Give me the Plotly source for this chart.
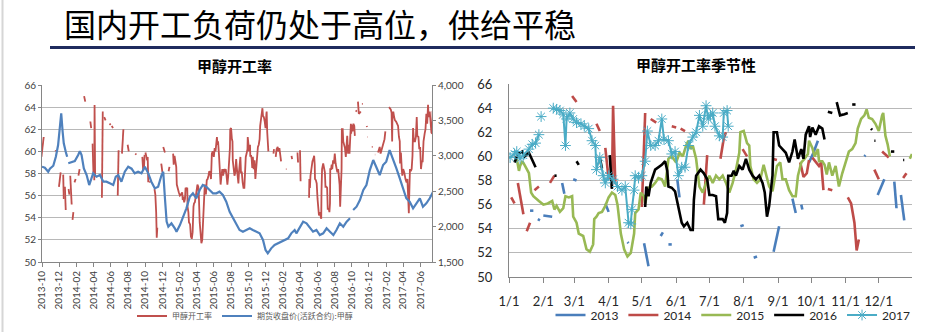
import pandas as pd
import plotly.graph_objects as go

# ---------------------------------------------------------------------------
# 甲醇开工率 (%) by year. Day offsets are counted from 1 January of each year;
# None marks a break in the series.
# ---------------------------------------------------------------------------
YEARS = [2013, 2014, 2015, 2016, 2017]

day_2013 = [19, 22, None, 26, 28, None, 31, 39, None, 48, 50, None, 58, 61, None,
            87, 90, None, 107, 108, None, 122, 126, None, 137, 139, None, 144, 147, None,
            152, 154, None, 209, 212, None, 221, 224, None, 239, 244, None, 256, 259, None,
            264, 265, None, 271, 275, 279, None, 321, 322, None, 333, 339, None,
            348, 350, None, 354, 357]
rate_2013 = [55.5, 55.5, None, 54.8, 54.7, None, 55.1, 55.0, None, 57.8, 56.9, None, 58.1, 58.0, None,
             56.1, 55.4, None, 52.9, 52.8, None, 52.8, 50.9, None, 53.4, 53.7, None, 52.7, 52.7, None,
             58.1, 56.6, None, 54.2, 54.3, None, 51.6, 51.7, None, 52.1, 54.2, None, 56.5, 55.3, None,
             56.0, 55.6, None, 59.5, 60.3, 61.3, None, 60.0, 60.1, None, 56.8, 58.1, None,
             57.9, 55.7, None, 56.8, 54.7]

day_2014 = [2, 5, None, 8, 13, None, 16, 19, None, 23, 27, None, 37, 41, None, 57, 61, None,
            79, 82, None, 87, 90, None, 93, 94, 96, None, 120, 123, None, 128, 133, None,
            147, 151, None, 155, 159, None, 176, 179, None, 191, 194, 196, None, 211, 215, None,
            238, 242, None, 263, 266, 269, 271, None, 274, 280, 282, 284, None, 288, 292, None,
            306, 309, 312, 314, 316, None, 330, 334, None, 337, 343, None, 356, 359]
rate_2014 = [56.6, 56.1, None, 57.8, 55.2, None, 53.8, 54.5, None, 57.2, 57.5, None, 57.8, 58.4, None, 65.0, 64.5, None,
             62.7, 62.1, None, 60.7, 58.1, None, 57.4, 64.2, 57.7, None, 55.8, 63.6, None, 63.1, 62.8, None,
             62.5, 62.4, None, 62.3, 62.1, None, 56.0, 60.1, None, 59.8, 61.5, 62.0, None, 60.6, 60.0, None,
             59.8, 59.7, None, 59.5, 58.3, 58.6, 59.7, None, 59.9, 59.2, 59.5, 57.2, None, 57.3, 57.2, None,
             56.6, 56.1, 54.5, 52.2, 53.1, None, 58.9, 58.1, None, 60.4, 59.9, None, 58.2, 58.6]

day_2015 = [7, 9, 10, 12, 14, 18, 20, 22, 27, 31,
            35, 39, 41, 43, 46, 49, 51, 54, 57, 58,
            61, 63, 67, 70, 73, 76, 77, 79, 81, 84,
            87, 90, 93, 96, 98, 101, 104, 107, 110, 113,
            114, 117, 119, 122, 123, 126, 129, 132, 135, 138,
            141, 144, 147, 151, 154, 157, 160, 162, 164, 166,
            169, 172, 175, 178, 181, 184, 187, 190, 193, 196,
            199, 202, 205, 208, 209, 212, 215, 217, 218, 221,
            224, 227, 230, 232, 235, 238, 240, 242, 245, 247,
            250, 253, 256, 259, 261, 264, 267, 270, 271, 274,
            276, 279, 280, 283, 285, 287, 289, 292, 295, 298,
            301, 304, 307, 310, 313, 315, 318, 321, 323, 325,
            328, 331, 334, 337, 338, 340, 342, 344, None, 362, 364]
rate_2015 = [59.8, 58.8, 59.2, 59.6, 59.3, 58.6, 57.0, 56.7, 56.3, 56.0,
             56.1, 56.3, 55.6, 55.9, 55.4, 55.7, 56.7, 56.6, 56.7, 55.0,
             54.5, 53.6, 53.4, 52.3, 52.1, 52.7, 54.8, 55.0, 55.3, 55.4,
             55.9, 56.6, 57.0, 56.8, 56.0, 53.6, 52.3, 51.7, 52.0, 53.6,
             55.3, 55.6, 57.0, 56.7, 56.1, 57.4, 57.5, 57.8, 58.2, 58.1,
             57.5, 59.8, 60.0, 59.5, 60.3, 60.0, 60.9, 61.3, 60.6, 60.9,
             59.8, 57.5, 57.0, 57.8, 58.4, 57.8, 58.4, 58.1, 58.4, 57.8,
             57.0, 57.8, 58.9, 60.3, 62.0, 62.1, 61.1, 60.9, 59.2, 58.1,
             57.8, 58.1, 59.3, 58.6, 57.5, 57.1, 58.1, 59.2, 59.5, 58.1,
             58.1, 57.2, 56.7, 56.7, 58.4, 59.5, 59.8, 60.2, 61.3, 60.7,
             60.0, 60.6, 59.6, 59.6, 59.3, 58.5, 59.5, 58.4, 59.2, 57.5,
             58.6, 59.5, 60.4, 60.6, 61.1, 62.3, 63.1, 63.4, 63.9, 63.2,
             63.1, 62.7, 62.1, 63.4, 63.6, 61.7, 61.0, 60.0, None, 59.8, 60.2]

day_2016 = [5, 8, 12, 14, 18, 20, 24, None, 41, 43, None, 61, 63, None, 82, 84, None, 91, 93, None,
            123, 124, 126, 128, 132, 135, 138, 141, 143, 144,
            147, 150, 153, 156, 158, 161, 164, 166, 167, 169,
            173, 176, 179, 181, 184, 187, 189, 193, 195, 197,
            198, 201, 203, 205, 208, 211, 214, 217, 220, 223,
            226, 229, 231, 233, 235, 238, 239, 242, 244, 247,
            250, 253, 256, 258, 261, 264, 266, 268, 269, 271,
            272, 274, 277, 280, 283, 285, None, 288, 292, None,
            296, 299, 303, 306, None, 310, 313, None, 327, 328, None,
            330, 331, None, 345, 348, None, 356, 357]
rate_2016 = [59.5, 60.2, 60.4, 60.0, 60.3, 59.9, 59.1, None, 58.4, 58.4, None, 59.6, 59.3, None, 59.9, 59.0, None, 60.1, 57.3, None,
             55.8, 57.5, 56.7, 57.8, 58.9, 59.1, 59.3, 59.6, 58.8, 57.5,
             57.4, 57.1, 55.7, 54.5, 54.2, 54.5, 53.9, 53.9, 56.4, 58.4,
             58.9, 58.6, 58.1, 56.8, 56.8, 56.7, 54.8, 54.8, 54.5, 55.3,
             58.4, 58.4, 58.8, 58.4, 59.2, 58.9, 59.8, 58.9, 58.4, 58.1,
             58.4, 57.8, 57.0, 55.0, 55.9, 58.4, 62.0, 62.0, 60.9, 60.6,
             60.3, 59.5, 60.4, 61.4, 59.8, 60.6, 59.8, 61.8, 62.0, 62.5,
             61.6, 62.4, 61.8, 62.5, 62.3, 61.4, None, 63.7, 63.6, None,
             64.5, 63.4, 63.5, 63.6, None, 64.3, 64.3, None, 62.3, 62.2, None,
             61.3, 61.3, None, 60.4, 60.4, None, 59.7, 59.7]

day_2017 = [1, 5, 7, 10, 13, 18, 21, 24, 27, None, 29, None,
            40, 43, 46, 49, 51, 52, 55, 58, 61, 65,
            68, 72, 75, 78, 79, 82, 85, 87, 90, 94,
            98, 102, 105, 108, 110, 111, 113, 114, 117, 120,
            123, 125, 128, 132, 135, 138, 140, 144, 147, 150,
            153, 156, 159, 162, 166, 169, 172, 175, 178, 180,
            182, 184, 186, 190, 193, 194, 197, 198]
rate_2017 = [59.9, 60.2, 60.4, 59.8, 60.1, 60.6, 61.0, 61.1, 61.8, None, 63.3, None,
             64.0, 63.9, 63.8, 63.5, 60.9, 63.1, 63.6, 63.1, 62.8, 62.7,
             62.5, 62.3, 61.3, 60.9, 58.9, 59.9, 58.4, 57.8, 58.4, 58.1,
             57.5, 57.2, 57.5, 54.5, 54.4, 55.6, 57.2, 58.4, 58.2, 58.4,
             59.6, 62.1, 60.9, 60.9, 61.3, 63.1, 61.4, 61.3, 60.2, 60.4,
             58.4, 59.1, 59.1, 60.9, 61.6, 62.0, 63.4, 62.5, 64.2, 63.1,
             63.4, 63.6, 62.5, 61.7, 61.6, 63.6, 63.8, 62.5]

# 期货收盘价(活跃合约):甲醇 (元/吨); None marks a break in the series
price_dates = [
    "2013-10-01", "2013-10-11", "2013-10-23", "2013-10-29", "2013-11-10", "2013-11-19",
    "2013-11-27", "2013-12-03", "2013-12-08", "2013-12-13", "2013-12-17", "2013-12-24",
    "2013-12-29", None, "2014-01-02", "2014-01-14", "2014-01-25", "2014-02-06", "2014-02-12",
    "2014-02-18", "2014-02-26", "2014-03-08", "2014-03-17", "2014-03-25", "2014-03-31",
    "2014-04-12", "2014-04-24", "2014-05-06", "2014-05-17", "2014-05-29", "2014-06-10",
    "2014-06-19", "2014-06-28", "2014-07-09", "2014-07-21", "2014-08-02", "2014-08-14",
    "2014-08-25", "2014-09-06", "2014-09-18", "2014-09-30", "2014-10-12", "2014-10-23",
    "2014-11-04", "2014-11-16", "2014-11-28", "2014-12-04", "2014-12-10", "2014-12-16",
    "2014-12-22", "2015-01-02", "2015-01-14", "2015-01-20", "2015-02-01", "2015-02-12",
    "2015-02-24", "2015-03-08", "2015-03-19", "2015-03-31", "2015-04-12", "2015-04-23",
    "2015-05-05", "2015-05-17", "2015-05-29", "2015-06-10", "2015-06-21", "2015-07-03",
    "2015-07-15", "2015-07-27", "2015-08-08", "2015-08-19", "2015-08-31", "2015-09-12",
    "2015-09-24", "2015-10-06", "2015-10-17", "2015-10-29", "2015-11-10", "2015-11-22",
    "2015-12-01", "2015-12-09", "2015-12-21", "2016-01-02", "2016-01-14", "2016-01-26",
    "2016-02-07", "2016-02-19", "2016-03-01", "2016-03-13", "2016-03-19", "2016-03-31",
    "2016-04-12", "2016-04-24", "2016-05-06", "2016-05-17", "2016-05-29", "2016-06-10",
    "2016-06-22", "2016-07-04", "2016-07-16", "2016-07-28", "2016-08-08", "2016-08-20",
    "2016-09-01", "2016-09-13", "2016-09-25", None, "2016-10-06", "2016-10-18", "2016-10-30",
    "2016-11-11", "2016-11-22", "2016-12-04", "2016-12-16", "2016-12-28", "2017-01-08",
    "2017-01-20", "2017-01-31", "2017-02-12", "2017-02-24", "2017-03-08", "2017-03-20",
    "2017-04-01", "2017-04-12", "2017-04-24", "2017-05-06", "2017-05-18", "2017-05-30",
    "2017-06-10", "2017-06-22", "2017-07-04", "2017-07-16",
]
price_values = [
    2846, 2832, 2775, 2818, 2860, 2987,
    3152, 3388, 3600, 3340, 3176, 3058,
    2987, None, 2894, 2908, 2926, 3011, 3067,
    3011, 2823, 2728, 2587, 2681, 2752,
    2704, 2728, 2634, 2634, 2611, 2587,
    2704, 2728, 2634, 2775, 2846, 2818,
    2752, 2775, 2752, 2846, 2752, 2634,
    2540, 2564, 2728, 2775, 2400, 2070,
    1999, 2046, 1976, 1928, 2022, 2140,
    2258, 2422, 2470, 2400, 2517, 2587,
    2564, 2517, 2470, 2470, 2493, 2446,
    2352, 2210, 2117, 2022, 1952, 1928,
    1952, 1976, 1952, 1928, 1905, 1811,
    1670, 1623, 1693, 1740, 1764, 1787,
    1811, 1834, 1905, 1952, 1905, 1999,
    2070, 2046, 1976, 1928, 1952, 1881,
    1905, 1976, 1928, 1881, 1952, 2046,
    1999, 2070, 2117, None, 2234, 2281, 2375,
    2517, 2587, 2799, 2940, 2823, 2728,
    2870, 2917, 3081, 2964, 2823, 2681,
    2540, 2400, 2352, 2258, 2328, 2400,
    2281, 2328, 2400, 2493,
]

# Axis tick settings
rate_ticks = [50, 52, 54, 56, 58, 60, 62, 64, 66]
price_ticks = [1500, 2000, 2500, 3000, 3500, 4000]

season_days = dict(zip(YEARS, [day_2013, day_2014, day_2015, day_2016, day_2017]))
season_rate = dict(zip(YEARS, [rate_2013, rate_2014, rate_2015, rate_2016, rate_2017]))
year_colors = {2013: "#4a7ebb", 2014: "#be4b48", 2015: "#98b954", 2016: "#000000", 2017: "#4bacc6"}

for yr in YEARS:
    assert len(season_days[yr]) == len(season_rate[yr]), yr
assert len(price_dates) == len(price_values)


def day_to_date(year, days):
    start = pd.Timestamp(year=year, month=1, day=1)
    return [None if d is None else (start + pd.Timedelta(days=d)).strftime("%Y-%m-%d")
            for d in days]


# Continuous history for the left panel, joined year after year
hist_x, hist_y = [], []
for yr in YEARS:
    hist_x += day_to_date(yr, season_days[yr]) + [None]
    hist_y += season_rate[yr] + [None]

W, H = 927, 336
CJK = "Noto Sans CJK SC"
NUM = "Lato, Noto Sans CJK SC"
AXIS_GREY = "#868686"
GRID_GREY = "#b8b8b8"


def fx(px):
    return px / W


def fy(py):
    return 1 - py / H


fig = go.Figure()

# Left panel: operating rate (left axis) and futures price (right axis)
fig.add_trace(go.Scatter(
    x=hist_x, y=hist_y, name="甲醇开工率", mode="lines",
    line=dict(color="#c0504d", width=1.8), connectgaps=False,
    xaxis="x", yaxis="y", legend="legend"))
fig.add_trace(go.Scatter(
    x=price_dates, y=price_values, name="期货收盘价(活跃合约):甲醇", mode="lines",
    line=dict(color="#4f81bd", width=2.2), connectgaps=False,
    xaxis="x", yaxis="y2", legend="legend"))

# Right panel: one line per year on a shared calendar axis
for yr in YEARS:
    style = dict(mode="lines", line=dict(color=year_colors[yr], width=2.6))
    if yr == 2017:
        style = dict(mode="lines+markers",
                     line=dict(color=year_colors[yr], width=2),
                     marker=dict(symbol="asterisk-open", size=9,
                                 line=dict(color=year_colors[yr], width=1)))
    fig.add_trace(go.Scatter(
        x=day_to_date(2017, season_days[yr]), y=season_rate[yr], name=str(yr),
        connectgaps=False, xaxis="x2", yaxis="y3", legend="legend2", **style))

fig.update_layout(
    width=W, height=H, autosize=False,
    margin=dict(l=0, r=0, t=0, b=0, pad=0, autoexpand=False),
    paper_bgcolor="white", plot_bgcolor="white",
    showlegend=True, hovermode=False,
    xaxis=dict(
        domain=[fx(42), fx(432)], anchor="y", type="date",
        range=["2013-10-01", "2017-07-12"],
        tickmode="linear", tick0="2013-10-01", dtick="M2", tickformat="%Y-%m",
        tickangle=-90, ticks="outside", ticklen=4, tickcolor=AXIS_GREY,
        showline=True, linecolor=AXIS_GREY, linewidth=1, showgrid=False,
        automargin=False,
        tickfont=dict(family=NUM, size=10, color="#404040")),
    yaxis=dict(
        domain=[fy(262), fy(85)], anchor="x", range=[50, 66],
        tickmode="array", tickvals=rate_ticks,
        ticks="outside", ticklen=3, tickcolor=AXIS_GREY,
        showline=True, linecolor=AXIS_GREY, linewidth=1,
        showgrid=True, gridcolor=GRID_GREY, gridwidth=1.3, zeroline=False,
        automargin=False,
        tickfont=dict(family=NUM, size=10, color="#404040")),
    yaxis2=dict(
        overlaying="y", side="right", anchor="x", range=[1500, 4000],
        tickmode="array", tickvals=price_ticks, tickformat=",",
        ticks="outside", ticklen=3, tickcolor=AXIS_GREY,
        showline=True, linecolor=AXIS_GREY, linewidth=1,
        showgrid=False, zeroline=False, automargin=False,
        tickfont=dict(family=NUM, size=10, color="#404040")),
    xaxis2=dict(
        domain=[fx(509), fx(912)], anchor="y3", type="date",
        range=["2017-01-01", "2017-12-31"],
        tickmode="linear", tick0="2017-01-01", dtick="M1", tickformat="%-m/%-d",
        ticks="outside", ticklen=5, tickcolor=AXIS_GREY, ticklabelstandoff=7,
        showline=True, linecolor=AXIS_GREY, linewidth=1, showgrid=False,
        automargin=False,
        tickfont=dict(family=NUM, size=13, color="#262626")),
    yaxis3=dict(
        domain=[fy(277), fy(84)], anchor="x2", range=[50, 66],
        tickmode="array", tickvals=rate_ticks, ticks="", ticklabelstandoff=13,
        showline=True, linecolor=AXIS_GREY, linewidth=1,
        showgrid=True, gridcolor=GRID_GREY, gridwidth=1.3, zeroline=False,
        automargin=False,
        tickfont=dict(family=NUM, size=13, color="#262626")),
    legend=dict(
        orientation="h", x=fx(245), xanchor="center", y=fy(316), yanchor="middle",
        font=dict(family=CJK, size=8, color="#595959"),
        bgcolor="rgba(0,0,0,0)", itemwidth=30, tracegroupgap=0),
    legend2=dict(
        orientation="h", x=fx(733), xanchor="center", y=fy(315), yanchor="middle",
        font=dict(family=NUM, size=12, color="#262626"),
        bgcolor="rgba(0,0,0,0)", itemwidth=30, tracegroupgap=0),
    annotations=[
        dict(text="国内开工负荷仍处于高位，供给平稳", x=fx(62), y=fy(23),
             xref="paper", yref="paper", xanchor="left", yanchor="middle",
             showarrow=False, font=dict(family=CJK, size=32, color="#000000")),
        dict(text="<b>甲醇开工率</b>", x=fx(234), y=fy(66),
             xref="paper", yref="paper", xanchor="center", yanchor="middle",
             showarrow=False, font=dict(family=CJK, size=15, color="#000000")),
        dict(text="<b>甲醇开工率季节性</b>", x=fx(696), y=fy(64),
             xref="paper", yref="paper", xanchor="center", yanchor="middle",
             showarrow=False, font=dict(family=CJK, size=15, color="#000000")),
    ],
    shapes=[
        dict(type="line", xref="paper", yref="paper", x0=fx(50), x1=fx(915),
             y0=fy(47.5), y1=fy(47.5), line=dict(color="#1f2b5e", width=3)),
        dict(type="line", xref="paper", yref="paper", x0=fx(2.5), x1=fx(2.5),
             y0=fy(332), y1=1, line=dict(color="#d6d6d6", width=2)),
    ],
)

fig.write_html("out.html")
